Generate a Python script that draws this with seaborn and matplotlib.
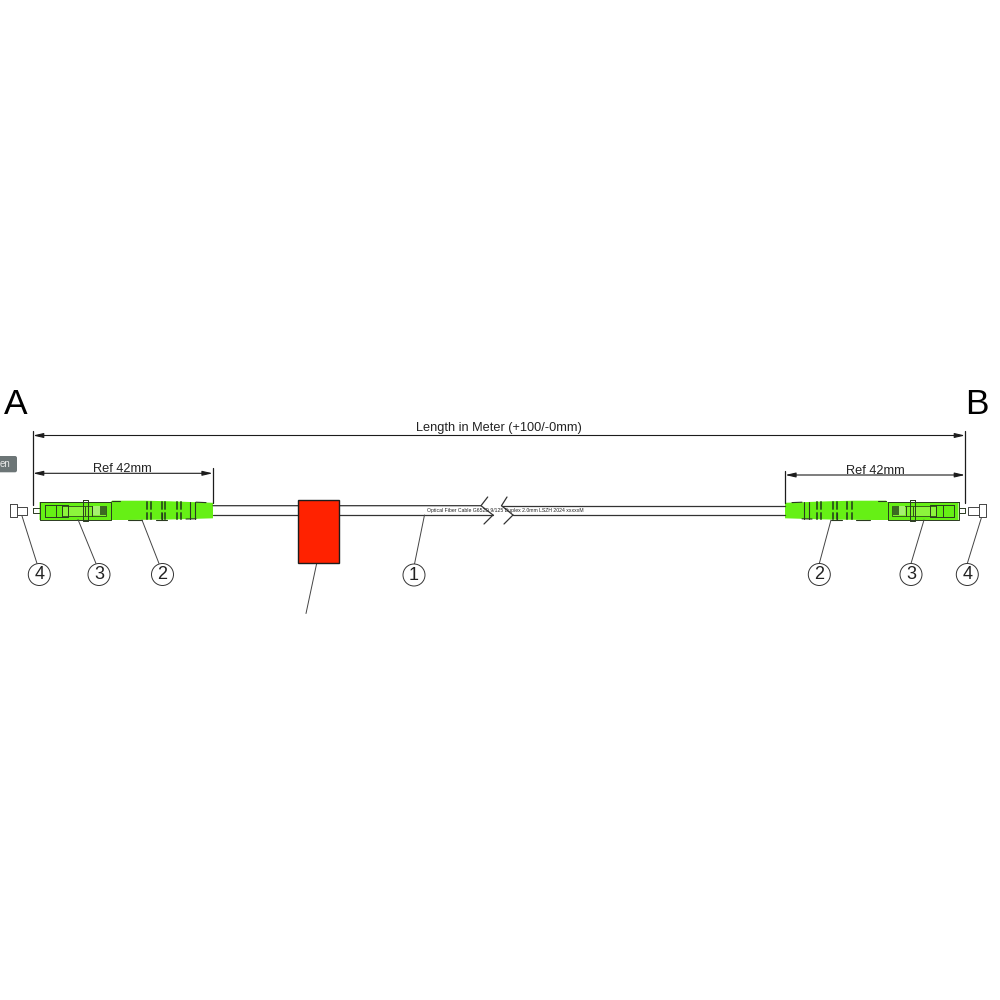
import pandas as pd
import seaborn as sns
import matplotlib.pyplot as plt
from matplotlib.patches import Circle, FancyBboxPatch

sns.set_style("white")
plt.rcParams['font.family'] = ['Liberation Sans', 'DejaVu Sans']

LINE = '#1c1c1c'
GREEN = '#66f015'
RED = '#ff2200'

# everything is read off the drawing, in picture pixels
# cable
cable_top = [(213, 505.7), (481, 505.7), (493, 515)]
cable_top2 = [(501.5, 505.7), (513, 515)]
cable_top3 = [(501.5, 505.7), (785, 505.7)]
cable_bot = [(213, 514.8), (493, 514.8)]
cable_bot2 = [(513, 514.8), (785, 514.8)]
break_marks = [[(481, 505.7), (487.7, 497)], [(493, 515), (484, 524)],
               [(501.5, 505.7), (507, 497)], [(513, 515), (504, 524)]]
cable_text = 'Optical Fiber Cable G652D 9/125 Duplex 2.0mm LSZH 2024 xxxxxM'

# red label
label_x = [297.7, 339.3]
label_y = [500.3, 563.3]
label_leader = [(316.7, 563.3), (306, 613.5)]

# left connector, the right one is its mirror image
MIRROR = 998
body_poly = [(39.5, 502), (110.5, 502), (112, 500.7), (145, 500.7), (170, 501.3), (190, 502),
             (213, 502.8), (213, 518.3), (190, 519), (165, 519.6), (125, 520), (39.5, 520)]
housing = [(39.5, 502), (110.5, 502), (110.5, 520), (39.5, 520), (39.5, 502)]
inner_box = [(44.5, 504.5), (68, 504.5), (68, 517.3), (44.5, 517.3), (44.5, 504.5)]
inner_v = [[(55.5, 504.5), (55.5, 517.3)], [(62, 504.5), (62, 517.3)]]
latch = [(62, 506), (85, 506), (85, 516), (62, 516)]
collar = [(82.7, 499.5), (88, 499.5), (88, 520.7), (82.7, 520.7), (82.7, 499.5)]
rear_box = [(85, 505.5), (106, 505.5), (106, 515.5), (85, 515.5)]
rear_v = [[(92, 505.5), (92, 515.5)]]
dark_x = [99.5, 105.5]
dark_y = [506, 515]
pale_x = [93, 99.5]
pale_y = [506, 515]
notch_x = [146.5, 151, 161.5, 165, 177, 181]
notch_top = [502, 508.5]
notch_bot = [513, 518.8]
notch_long = [[(161.5, 513), (161.5, 520)], [(189.5, 501.5), (189.5, 518.5)], [(194.5, 502), (194.5, 519)]]
boot_edges = [[(112, 500.7), (120, 500.7)], [(128, 520), (142, 520)], [(156, 519.6), (167, 519.6)],
              [(186, 519), (196, 518.8)], [(196, 502.2), (206, 502.6)]]
stub = [(32.8, 508), (39.5, 508), (39.5, 512.7), (32.8, 512.7), (32.8, 508)]
cap_head = [(10, 504), (17, 504), (17, 517), (10, 517), (10, 504)]
cap_shaft = [(17, 507), (27.3, 507), (27.3, 514.5), (17, 514.5)]
CAP_SHIFT = -2.3

# dimensions
dim_x = [33, 965]
dim_y = 435.5
ref_left = [33, 212.7]
ref_left_y = 473.3
ref_right = [785.3, 965]
ref_right_y = 475
ext_lines = [[(33, 431), (33, 505)], [(965, 431), (965, 503)],
             [(212.7, 468), (212.7, 503)], [(785.3, 470.7), (785.3, 503)]]

# balloons
balloon_x = [414, 39.3, 99, 162.5, 819.3, 911, 967.3]
balloon_y = [575, 574.5, 574.5, 574.5, 574.5, 574.5, 574.5]
balloon_txt = ['1', '4', '3', '2', '2', '3', '4']
leaders = [[(424.5, 515), (414.5, 564)], [(22, 516), (37, 563.5)], [(78, 519.5), (96, 563.5)],
           [(142, 520), (159, 563.5)], [(831, 520), (819.3, 563.5)], [(924, 520), (911, 563.5)],
           [(981.3, 518), (967.3, 563.5)]]


def flip(pts, shift=0):
    return [(MIRROR - x + shift, y) for x, y in pts]


def draw_lines(ax, lines, lw=0.8, color=LINE, z=3):
    # one dataframe per call, seaborn keeps the segments apart through units
    rows = []
    for i, ln in enumerate(lines):
        for x, y in ln:
            rows.append({'x': x, 'y': y, 'seg': i})
    df = pd.DataFrame(rows)
    sns.lineplot(data=df, x='x', y='y', units='seg', estimator=None, sort=False,
                 color=color, linewidth=lw, zorder=z, ax=ax, legend=False)


def dim_arrow(ax, x0, x1, y):
    ax.annotate('', xy=(x0, y), xytext=(x1, y), zorder=4,
                arrowprops=dict(arrowstyle='<|-|>,head_length=0.6,head_width=0.14', color=LINE,
                                lw=0.8, shrinkA=0, shrinkB=0, mutation_scale=10))


def connector(ax, fx, cap_fx):
    ax.fill(*zip(*fx(body_poly)), color=GREEN, lw=0, zorder=1)
    ax.fill(*zip(*fx(latch)), color='#8cf53c', ec='#2a4a16', lw=0.6, zorder=2)
    ax.fill(*zip(*fx(rear_box)), color='#7ff22c', ec='#2a4a16', lw=0.6, zorder=2)
    ax.fill(*zip(*fx([(pale_x[0], pale_y[0]), (pale_x[1], pale_y[0]), (pale_x[1], pale_y[1]), (pale_x[0], pale_y[1])])),
            color='#a5f070', lw=0, zorder=2)
    ax.fill(*zip(*fx([(dark_x[0], dark_y[0]), (dark_x[1], dark_y[0]), (dark_x[1], dark_y[1]), (dark_x[0], dark_y[1])])),
            color='#3c6b22', lw=0, zorder=2)
    segs = [housing, inner_box, collar, stub] + inner_v + rear_v
    draw_lines(ax, [fx(s) for s in segs], lw=0.7, color='#2a3a20')
    notches = []
    for nx in notch_x:
        notches.append([(nx, notch_top[0]), (nx, notch_top[1])])
        notches.append([(nx, notch_bot[0]), (nx, notch_bot[1])])
    draw_lines(ax, [fx(s) for s in notches], lw=1.4, color='#2f5f1a')
    draw_lines(ax, [fx(s) for s in notch_long + boot_edges], lw=0.8, color='#2a3a20')
    draw_lines(ax, [cap_fx(cap_head), cap_fx(cap_shaft)], lw=0.7, color='#444444')


fig, ax = plt.subplots(figsize=(10, 10), dpi=100)
ax.set_position([0, 0, 1, 1])

# cable
draw_lines(ax, [cable_top, cable_top2, cable_top3, cable_bot, cable_bot2] + break_marks, lw=0.9, color='#333333')
ax.text(505.5, 510.4, cable_text, fontsize=3.7, ha='center', va='center', color='#222222', zorder=5)

connector(ax, lambda p: p, lambda p: p)
connector(ax, flip, lambda p: flip(p, CAP_SHIFT))

# label
ax.fill([label_x[0], label_x[1], label_x[1], label_x[0]], [label_y[0], label_y[0], label_y[1], label_y[1]],
        fc=RED, ec=LINE, lw=1.0, zorder=6)

# dimensions
draw_lines(ax, ext_lines, lw=0.9)
dim_arrow(ax, dim_x[0], dim_x[1], dim_y)
dim_arrow(ax, ref_left[0], ref_left[1], ref_left_y)
dim_arrow(ax, ref_right[0], ref_right[1], ref_right_y)
ax.text(498.5, 428, 'Length in Meter (+100/-0mm)', fontsize=9.2, ha='center', va='center', color='#222222')
ax.text(122.5, 468.5, 'Ref 42mm', fontsize=9.2, ha='center', va='center', color='#222222')
ax.text(875, 471, 'Ref 42mm', fontsize=9.2, ha='center', va='center', color='#222222')
ax.text(16, 405, 'A', fontsize=25.5, ha='center', va='center', color='black')
ax.text(977, 405, 'B', fontsize=25.5, ha='center', va='center', color='black')

# leaders and balloons
draw_lines(ax, leaders + [label_leader], lw=0.7, color='#444444')
for bx, by, txt in zip(balloon_x, balloon_y, balloon_txt):
    ax.add_patch(Circle((bx, by), 11, fc='white', ec='#333333', lw=0.7, zorder=6))
    ax.text(bx, by + 0.3, txt, fontsize=13, ha='center', va='center', color='#222222', zorder=7)

# language tag on the left border
ax.add_patch(FancyBboxPatch((-10, 456), 27, 16.3, boxstyle='round,pad=0,rounding_size=2',
                            fc='#6c7576', ec='none', zorder=6))
ax.text(5, 464, 'en', fontsize=7, ha='center', va='center', color='#e8e8e8', zorder=7)

ax.set_xlim(0, 1000)
ax.set_ylim(1000, 0)
ax.axis('off')
fig.savefig('out.png', dpi=100)
